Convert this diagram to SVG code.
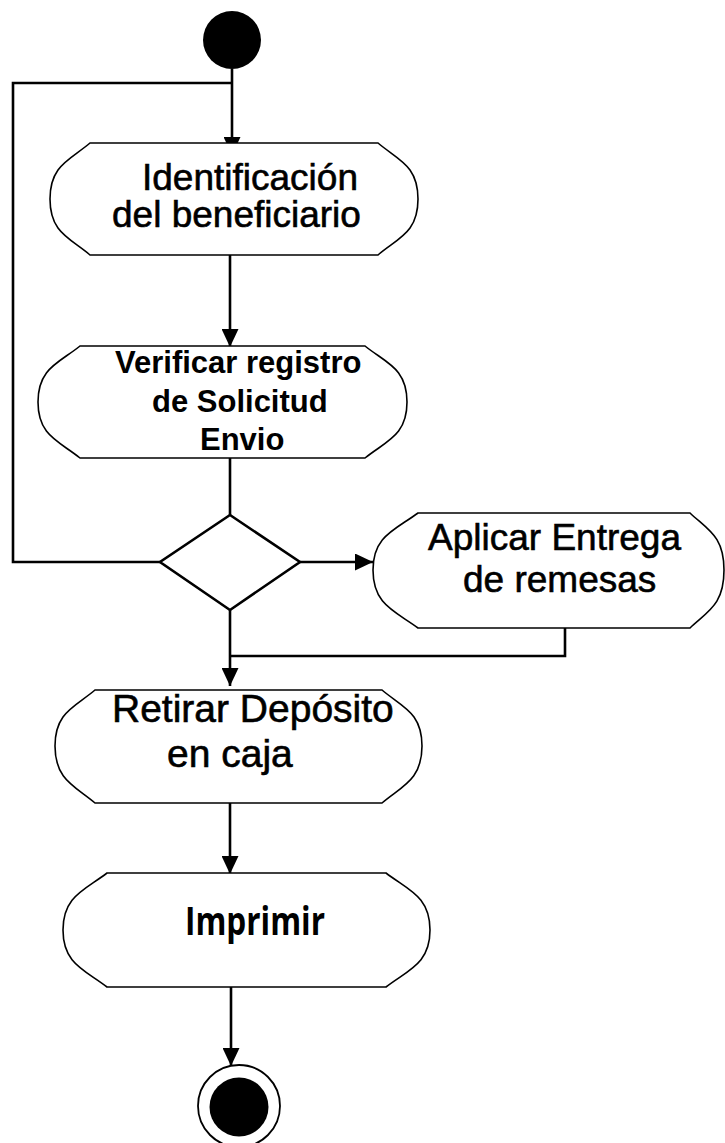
<svg xmlns="http://www.w3.org/2000/svg" width="725" height="1143" viewBox="0 0 725 1143">
<style>
.node{fill:#fff;stroke:#000;stroke-width:1.6}
.conn{fill:none;stroke:#000;stroke-width:2.6}
.t{font-family:"Liberation Sans",Arial,sans-serif;fill:#000;stroke:#000;stroke-width:0.6}
.tb{font-family:"Liberation Sans",Arial,sans-serif;font-weight:bold;fill:#000}
</style>
<defs>
<marker id="ah" viewBox="0 0 18 17" refX="18" refY="8.5" markerWidth="18" markerHeight="17" markerUnits="userSpaceOnUse" orient="auto">
<path d="M0,0 L18,8.5 L0,17 Z" fill="#000"/>
</marker>
</defs>
<rect width="725" height="1143" fill="#fff"/>
<g id="connectors">
<line class="conn" x1="232" y1="69" x2="232" y2="155" marker-end="url(#ah)"/>
<polyline class="conn" points="160,562 13,562 13,83 232,83"/>
<line class="conn" x1="230" y1="255" x2="230" y2="347" marker-end="url(#ah)"/>
<line class="conn" x1="230" y1="458" x2="230" y2="515"/>
<line class="conn" x1="300" y1="562" x2="373" y2="562" marker-end="url(#ah)"/>
<line class="conn" x1="230" y1="610" x2="230" y2="686" marker-end="url(#ah)"/>
<polyline class="conn" points="565,628 565,656 230,656"/>
<line class="conn" x1="230" y1="803" x2="230" y2="874" marker-end="url(#ah)"/>
<line class="conn" x1="231" y1="987" x2="231" y2="1066" marker-end="url(#ah)"/>
</g>
<g id="start"><circle cx="232" cy="40" r="29" fill="#000"/></g>
<g id="identificacion">
<path class="node" d="M90,143 H378 C398,160 418,165 418,199 C418,233 398,238 378,255 H90 C70,238 50,233 50,199 C50,165 70,160 90,143 Z"/>
<text class="t" font-size="37" x="142" y="190">Identificación</text>
<text class="t" font-size="37" x="112" y="227">del beneficiario</text>
</g>
<g id="verificar">
<path class="node" d="M80,346 H365 C386,363 407,368 407,402 C407,436 386,441 365,458 H80 C59,441 38,436 38,402 C38,368 59,363 80,346 Z"/>
<text class="tb" font-size="31" x="115" y="373">Verificar registro</text>
<text class="tb" font-size="31" x="152" y="412">de Solicitud</text>
<text class="tb" font-size="31" x="200" y="450">Envio</text>
</g>
<g id="decision"><polygon points="230,515 300,562 230,610 160,562" fill="#fff" stroke="#000" stroke-width="2.6"/></g>
<g id="aplicar">
<path class="node" d="M418,513 H690 C708,530 724,536 724,570 C724,605 708,611 690,628 H418 C395,611 373,605 373,570 C373,536 395,530 418,513 Z"/>
<text class="t" font-size="37" x="428" y="550">Aplicar Entrega</text>
<text class="t" font-size="37" x="463" y="592">de remesas</text>
</g>
<g id="retirar">
<path class="node" d="M95,690 H382 C402,707 422,712 422,746 C422,780 402,786 382,803 H95 C75,786 55,780 55,746 C55,712 75,707 95,690 Z"/>
<text class="t" font-size="39" x="112" y="722">Retirar Depósito</text>
<text class="t" font-size="39" x="167" y="767">en caja</text>
</g>
<g id="imprimir">
<path class="node" d="M107,873 H386 C408,890 430,896 430,930 C430,964 408,970 386,987 H107 C85,970 63,964 63,930 C63,896 85,890 107,873 Z"/>
<text font-family="'Open Sans',sans-serif" font-weight="700" font-size="40" x="185" y="935" textLength="140" lengthAdjust="spacingAndGlyphs">Imprimir</text>
</g>
<g id="end">
<circle cx="239" cy="1106" r="41" fill="#fff" stroke="#000" stroke-width="1.8"/>
<circle cx="239" cy="1107" r="29.5" fill="#000"/>
</g>
</svg>
